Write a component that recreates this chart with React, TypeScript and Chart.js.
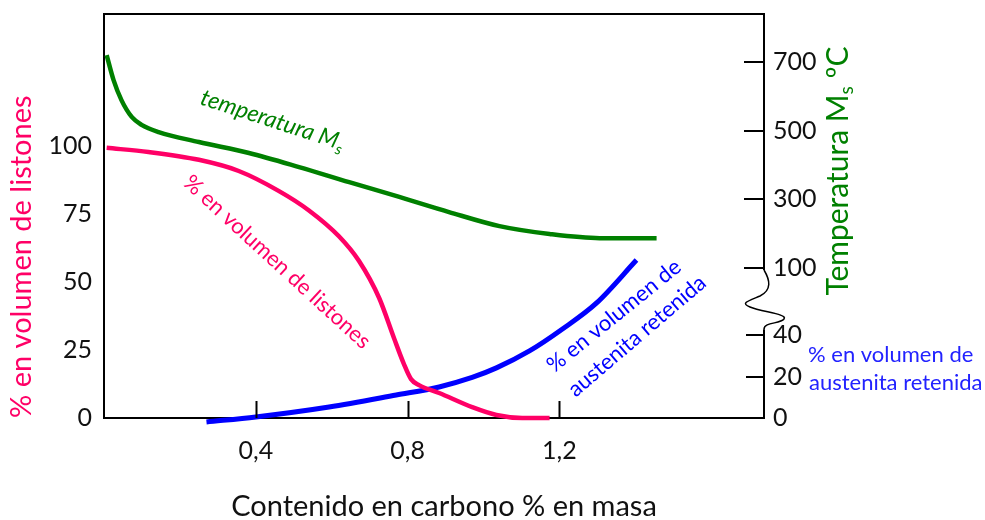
import React, { useEffect, useRef } from 'react';
import { Chart, registerables } from 'chart.js';

Chart.register(...registerables);

// ---- data ----
const xTicks = [0.4, 0.8, 1.2];
const xTickLabels = ['0,4', '0,8', '1,2'];
const leftTicks = [0, 25, 50, 75, 100];
const tempTicks = [100, 300, 500, 700];
const austTicks = [0, 20, 40];

const carbonListones = [0.007, 0.117, 0.25, 0.355, 0.46, 0.54, 0.619, 0.672, 0.725, 0.764, 0.79, 0.809, 0.83, 0.883, 0.97, 1.034, 1.102, 1.174];
const listonesPct = [99.3, 97.8, 94.9, 90.8, 83.5, 76.3, 66.8, 57.7, 44.1, 29.4, 19.9, 14.3, 12.1, 9.2, 4.0, 1.1, 0, 0];

const carbonMs = [0.007, 0.025, 0.046, 0.073, 0.099, 0.144, 0.25, 0.382, 0.514, 0.646, 0.778, 0.909, 1.042, 1.174, 1.306, 1.456];
const msTemp = [720, 648, 589, 540, 517, 496, 467, 435, 394, 350, 307, 263, 222, 199, 187, 187];

const carbonAust = [0.27, 0.4, 0.593, 0.77, 0.883, 0.97, 1.034, 1.121, 1.208, 1.298, 1.403];
const austPct = [-1.9, 0.5, 5.3, 11.1, 15.0, 19.6, 24.2, 32.4, 43.0, 55.6, 76.3];

const PINK = '#FF0066';
const GREEN = '#008000';
const BLUE = '#0000FF';
const FONT = 'Lato';

const toPoints = (xs: number[], ys: number[]) => xs.map((x, i) => ({ x, y: ys[i] }));

const framePlugin = {
  id: 'frameAndTicks',
  afterDraw(chart: any) {
    const { ctx, chartArea: a, scales } = chart;
    const { x, yT, yA } = scales;
    ctx.save();
    ctx.strokeStyle = '#000';
    ctx.lineWidth = 2;
    const line = (x1: number, y1: number, x2: number, y2: number) => {
      ctx.beginPath();
      ctx.moveTo(x1, y1);
      ctx.lineTo(x2, y2);
      ctx.stroke();
    };
    // top border
    line(a.left, a.top, a.right + 1, a.top);
    // x tick marks (inside)
    x.ticks.forEach((t: any) => {
      const px = Math.round(x.getPixelForValue(t.value)) + 0.5;
      line(px, a.bottom, px, a.bottom - 17);
    });
    // right axis tick marks (inside)
    yT.ticks.forEach((t: any) => {
      const py = Math.round(yT.getPixelForValue(t.value));
      line(a.right, py, a.right - 20, py);
    });
    yA.ticks.forEach((t: any) => {
      if (t.value === 0) return;
      const py = Math.round(yA.getPixelForValue(t.value));
      line(a.right, py, a.right - 18, py);
    });
    // right border with a scale break
    const yb1 = yT.getPixelForValue(100) + 2;
    const yb2 = yA.getPixelForValue(40) - 6;
    const r = a.right;
    line(r, a.top - 1, r, yb1);
    ctx.lineWidth = 1.5;
    ctx.beginPath();
    ctx.moveTo(r, yb1);
    ctx.bezierCurveTo(r + 6, yb1 + 10, r + 8, yb1 + 20, r - 4, yb1 + 26);
    ctx.bezierCurveTo(r - 16, yb1 + 31, r - 24, yb1 + 33, r - 14, yb1 + 37);
    ctx.bezierCurveTo(r - 2, yb1 + 42, r + 24, yb1 + 44, r + 20, yb1 + 49);
    ctx.bezierCurveTo(r + 16, yb1 + 54, r, yb1 + 52, r, yb2);
    ctx.stroke();
    ctx.lineWidth = 2;
    line(r, yb2, r, a.bottom + 1);
    ctx.restore();
  },
};

const labelsPlugin = {
  id: 'textLabels',
  afterDraw(chart: any) {
    const { ctx } = chart;
    ctx.save();
    // green annotation: temperatura Ms
    ctx.save();
    ctx.translate(199, 104);
    ctx.rotate((18 * Math.PI) / 180);
    ctx.fillStyle = GREEN;
    ctx.textAlign = 'left';
    ctx.textBaseline = 'alphabetic';
    ctx.font = `italic 23px ${FONT}`;
    const main = 'temperatura M';
    ctx.fillText(main, 0, 0);
    const w = ctx.measureText(main).width;
    ctx.font = `italic 15px ${FONT}`;
    ctx.fillText('s', w, 5);
    ctx.restore();

    // pink annotation
    ctx.save();
    ctx.translate(277, 262);
    ctx.rotate((42.5 * Math.PI) / 180);
    ctx.fillStyle = PINK;
    ctx.textAlign = 'center';
    ctx.textBaseline = 'middle';
    ctx.font = `22px ${FONT}`;
    ctx.fillText('% en volumen de listones', 0, 0);
    ctx.restore();

    // blue annotation (two lines)
    ctx.fillStyle = BLUE;
    ctx.font = `22px ${FONT}`;
    ctx.textAlign = 'center';
    ctx.textBaseline = 'middle';
    ctx.save();
    ctx.translate(614, 316);
    ctx.rotate((-39 * Math.PI) / 180);
    ctx.fillText('% en volumen de', 0, 0);
    ctx.restore();
    ctx.save();
    ctx.translate(637, 336);
    ctx.rotate((-40.5 * Math.PI) / 180);
    ctx.fillText('austenita retenida', 0, 0);
    ctx.restore();

    // right austenite axis label
    ctx.textAlign = 'left';
    ctx.textBaseline = 'alphabetic';
    ctx.fillStyle = '#2222ff';
    ctx.font = `22px ${FONT}`;
    ctx.fillText('% en volumen de', 808, 362);
    ctx.fillText('austenita retenida', 809, 390);

    // x axis title
    ctx.fillStyle = '#111';
    ctx.font = `29px ${FONT}`;
    ctx.textAlign = 'center';
    ctx.textBaseline = 'alphabetic';
    ctx.fillText('Contenido en carbono % en masa', 444, 516);

    // right temperature axis title (reads bottom to top)
    ctx.save();
    ctx.translate(838, 171);
    ctx.rotate(-Math.PI / 2);
    ctx.fillStyle = GREEN;
    ctx.textBaseline = 'middle';
    ctx.textAlign = 'left';
    const big = `30px ${FONT}`;
    const small = `19px ${FONT}`;
    ctx.font = big;
    const w1 = ctx.measureText('Temperatura M').width;
    const w3 = ctx.measureText(' ºC').width;
    ctx.font = small;
    const w2 = ctx.measureText('s').width;
    const start = -(w1 + w2 + w3) / 2;
    ctx.font = big;
    ctx.fillText('Temperatura M', start, 0);
    ctx.font = small;
    ctx.fillText('s', start + w1, 9);
    ctx.font = big;
    ctx.fillText(' ºC', start + w1 + w2, 0);
    ctx.restore();

    ctx.restore();
  },
};

const noPad = (s: any) => {
  s.paddingTop = 0;
  s.paddingBottom = 0;
  s.paddingLeft = 0;
  s.paddingRight = 0;
};

export default function App() {
  const ref = useRef<HTMLCanvasElement>(null);

  useEffect(() => {
    if (!ref.current) return;
    Chart.defaults.font.family = FONT;
    const tickFont = { size: 25, lineHeight: 1 };
    const chart = new Chart(ref.current, {
      type: 'line',
      data: {
        datasets: [
          {
            label: '% en volumen de listones',
            data: toPoints(carbonListones, listonesPct),
            xAxisID: 'x',
            yAxisID: 'y',
            borderColor: PINK,
            borderWidth: 4.5,
            pointRadius: 0,
            cubicInterpolationMode: 'monotone',
            clip: false,
          },
          {
            label: 'temperatura Ms',
            data: toPoints(carbonMs, msTemp),
            xAxisID: 'x',
            yAxisID: 'yT',
            borderColor: GREEN,
            borderWidth: 4.5,
            pointRadius: 0,
            cubicInterpolationMode: 'monotone',
            clip: false,
          },
          {
            label: '% en volumen de austenita retenida',
            data: toPoints(carbonAust, austPct),
            xAxisID: 'x',
            yAxisID: 'yA',
            borderColor: BLUE,
            borderWidth: 5,
            pointRadius: 0,
            cubicInterpolationMode: 'monotone',
            clip: false,
          },
        ],
      } as any,
      options: {
        animation: false,
        responsive: false,
        maintainAspectRatio: false,
        layout: { padding: { top: 14, left: 0, right: 0, bottom: 0 } },
        plugins: { legend: { display: false }, tooltip: { enabled: false } },
        scales: {
          x: {
            type: 'linear',
            position: 'bottom',
            min: 0,
            max: 1.739,
            grid: { display: false, drawTicks: false },
            border: { display: true, color: '#000', width: 2 },
            ticks: {
              font: tickFont,
              color: '#111',
              padding: 20,
              callback: (_v: any, i: number) => xTickLabels[i],
            },
            afterBuildTicks: (s: any) => {
              s.ticks = xTicks.map((v) => ({ value: v }));
            },
            afterFit: (s: any) => {
              s.height = 102;
              noPad(s);
            },
            title: { display: false },
          },
          y: {
            type: 'linear',
            position: 'left',
            min: 0,
            max: 148.5,
            grid: { display: false, drawTicks: false },
            border: { display: true, color: '#000', width: 2 },
            ticks: { font: tickFont, color: '#111', padding: 12 },
            afterBuildTicks: (s: any) => {
              s.ticks = leftTicks.map((v) => ({ value: v }));
            },
            afterFit: (s: any) => {
              s.width = 104;
              noPad(s);
            },
            title: {
              display: true,
              text: '% en volumen de listones',
              color: PINK,
              align: 'start',
              font: { size: 29 },
              padding: { top: 4, bottom: 0 },
            },
          },
          yT: {
            type: 'linear',
            position: 'right',
            stack: 'right',
            stackWeight: 286,
            min: 6.8,
            max: 839.8,
            grid: { display: false, drawTicks: false },
            border: { display: false },
            ticks: { font: tickFont, color: '#111', padding: 9 },
            afterBuildTicks: (s: any) => {
              s.ticks = tempTicks.map((v) => ({ value: v }));
            },
            afterFit: (s: any) => {
              s.width = 221;
              noPad(s);
            },
          },
          yA: {
            type: 'linear',
            position: 'right',
            stack: 'right',
            stackWeight: 118,
            min: 0,
            max: 57,
            grid: { display: false, drawTicks: false },
            border: { display: false },
            ticks: { font: tickFont, color: '#111', padding: 9 },
            afterBuildTicks: (s: any) => {
              s.ticks = austTicks.map((v) => ({ value: v }));
            },
            afterFit: (s: any) => {
              s.width = 221;
              noPad(s);
            },
          },
        },
      } as any,
      plugins: [framePlugin, labelsPlugin],
    });
    return () => chart.destroy();
  }, []);

  return (
    <div style={{ position: 'fixed', left: 0, top: 0, width: 985, height: 520, background: '#fff' }}>
      <canvas ref={ref} width={985} height={520} style={{ display: 'block', width: 985, height: 520 }} />
    </div>
  );
}
